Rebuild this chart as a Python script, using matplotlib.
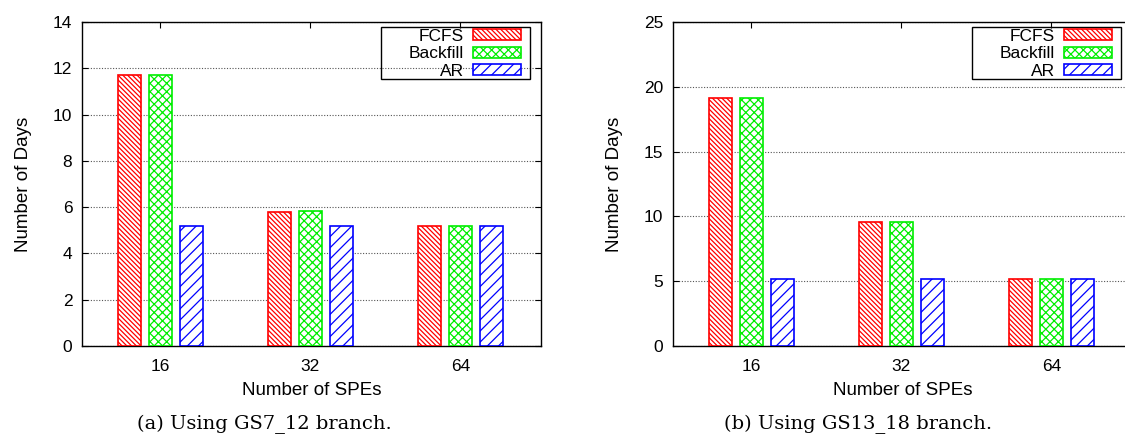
import numpy as np
import matplotlib.pyplot as plt
from matplotlib.patches import Rectangle

plt.rcParams['font.family'] = ['Liberation Sans', 'DejaVu Sans']
plt.rcParams['hatch.linewidth'] = 0.9

spes = ['16', '32', '64']
policies = ['FCFS', 'Backfill', 'AR']
colors = ['#ff0000', '#00ee00', '#0000ff']
hatches = ['\\' * 7, 'xxxx', '///']

# days per policy, for the two branches
gs7_12 = {'FCFS': [11.7, 5.8, 5.2], 'Backfill': [11.7, 5.85, 5.2], 'AR': [5.2, 5.2, 5.2]}
gs13_18 = {'FCFS': [19.1, 9.6, 5.15], 'Backfill': [19.1, 9.6, 5.15], 'AR': [5.15, 5.15, 5.15]}

fig = plt.figure(figsize=(11.25, 4.4), dpi=100)
W, H = 1125, 440


def panel(rect, data, ymax, ystep, caption, capx):
    l, t, r, b = rect
    wpx, hpx = r - l, b - t
    ax = fig.add_axes([l / W, 1 - b / H, wpx / W, hpx / H])
    x = np.arange(1, len(spes) + 1)
    for i, p in enumerate(policies):
        ax.bar(x + (i - 1) * 0.206, data[p], width=0.152, facecolor='white',
               edgecolor=colors[i], hatch=hatches[i], linewidth=1.2, label=p,
               zorder=3)
    ax.set_xlim(0.477, 3.537)
    ax.set_ylim(0, ymax)
    ax.set_yticks(np.arange(0, ymax + 0.1, ystep))
    ax.set_xticks(x)
    ax.set_xticklabels(spes)
    ax.yaxis.grid(True, linestyle=(0, (1, 1.5)), color='#555555', linewidth=0.8)
    ax.set_axisbelow(True)
    ax.tick_params(direction='in', top=True, right=True, length=4, labelsize=12.5)
    ax.tick_params(axis='x', pad=9)
    ax.tick_params(axis='y', pad=7)
    for s in ax.spines.values():
        s.set_linewidth(1.0)
    ax.set_xlabel('Number of SPEs', fontsize=13.5, labelpad=6)
    ax.set_ylabel('Number of Days', fontsize=13.5, labelpad=15)
    ax.legend(loc='upper right', markerfirst=False, frameon=False, fontsize=12.5,
              handlelength=2.75, handleheight=0.6, labelspacing=0.14,
              borderpad=0, handletextpad=0.55, borderaxespad=0,
              bbox_to_anchor=(1 - 20 / wpx, 1 - 7 / hpx))
    ax.add_patch(Rectangle((1 - 160 / wpx, 1 - 57 / hpx), 149 / wpx, 52 / hpx,
                           transform=ax.transAxes, fill=False, edgecolor='black',
                           linewidth=1.0, zorder=5))
    fig.text(capx / W, 1 - 424 / H, caption, ha='center', va='center',
             fontsize=14, family='DejaVu Serif')
    return ax


panel((82, 22, 541, 346), gs7_12, 14, 2, '(a) Using GS7_12 branch.', 264)
panel((673, 22, 1132, 346), gs13_18, 25, 5, '(b) Using GS13_18 branch.', 858)

fig.savefig('out.png', dpi=100)
